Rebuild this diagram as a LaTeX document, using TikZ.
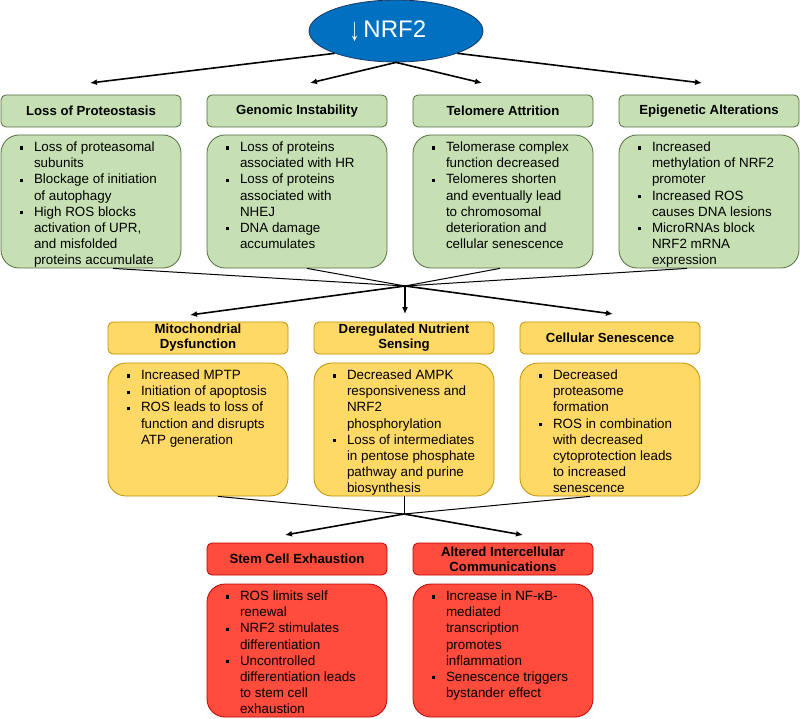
\documentclass[tikz,border=0pt]{standalone}
\usepackage{fontspec}
\setmainfont{Liberation Sans}
\usetikzlibrary{arrows.meta,shapes.geometric}
\definecolor{nrfblue}{RGB}{0,112,192}
\definecolor{nrfnavy}{RGB}{31,56,100}
\definecolor{hallgreen}{RGB}{198,224,180}
\definecolor{hallgreenedge}{RGB}{84,110,62}
\definecolor{hallyellow}{RGB}{255,217,102}
\definecolor{hallyellowedge}{RGB}{191,144,0}
\definecolor{hallred}{RGB}{255,76,60}
\definecolor{hallrededge}{RGB}{192,0,0}
\newcommand{\points}[1]{%
  \begin{minipage}[t][122pt][t]{156pt}\raggedright
  \fontsize{13.4}{16.1}\selectfont
  \begin{list}{\rule[1.8pt]{3.5pt}{3.5pt}}{\setlength\leftmargin{21pt}%
    \setlength\labelwidth{3.5pt}\setlength\labelsep{11pt}%
    \setlength\itemsep{0pt}\setlength\parsep{0pt}%
    \setlength\topsep{0pt}\setlength\partopsep{0pt}}%
  #1\end{list}\end{minipage}}
\tikzset{
  nrfnode/.style={ellipse,draw=nrfnavy,thick,fill=nrfblue,text=white,minimum width=174pt,
    minimum height=62pt,inner sep=0pt,font=\fontsize{24}{26}\selectfont},
  headnode/.style={rectangle,rounded corners=5pt,draw,line width=0.8pt,minimum width=180pt,
    minimum height=32pt,inner sep=2pt,align=center,font=\fontsize{13.2}{15}\selectfont\bfseries},
  listnode/.style={rectangle,rounded corners=18pt,draw,line width=0.8pt,minimum width=180pt,
    minimum height=133pt,inner xsep=12pt,inner ysep=5.5pt},
  rowone/.style={fill=hallgreen,draw=hallgreenedge},
  rowtwo/.style={fill=hallyellow,draw=hallyellowedge},
  rowthree/.style={fill=hallred,draw=hallrededge},
  fanarrow/.style={-{Latex[length=7pt,width=6pt]},line width=1.6pt},
  joinline/.style={line width=1pt}
}

\begin{document}
\begin{tikzpicture}[x=1pt,y=-1pt]
  \useasboundingbox (0,0) rectangle (800,719);
  \node[nrfnode] (nrf) at (396,31) {\raisebox{-3pt}{\scalebox{0.8}[1.35]{↓}}\,NRF2\hspace*{16pt}};

  % hallmarks, first tier
  \node[headnode,rowone] (h1) at (91,111) {Loss of Proteostasis};
  \node[headnode,rowone] (h2) at (297,111) {Genomic Instability};
  \node[headnode,rowone] (h3) at (503,111) {Telomere Attrition};
  \node[headnode,rowone] (h4) at (709,111) {Epigenetic Alterations};
  \node[listnode,rowone] (b1) at (91,201.5) {\points{%
    \item\strut Loss of proteasomal\\ subunits
    \item Blockage of initiation\\ of autophagy
    \item High ROS blocks\\ activation of UPR,\\ and misfolded\\ proteins accumulate}};
  \node[listnode,rowone] (b2) at (297,201.5) {\points{%
    \item\strut Loss of proteins\\ associated with HR
    \item Loss of proteins\\ associated with\\ NHEJ
    \item DNA damage\\ accumulates}};
  \node[listnode,rowone] (b3) at (503,201.5) {\points{%
    \item\strut Telomerase complex\\ function decreased
    \item Telomeres shorten\\ and eventually lead\\ to chromosomal\\ deterioration and\\ cellular senescence}};
  \node[listnode,rowone] (b4) at (709,201.5) {\points{%
    \item\strut Increased\\ methylation of NRF2\\ promoter
    \item Increased ROS\\ causes DNA lesions
    \item MicroRNAs block\\ NRF2 mRNA\\ expression}};

  % second tier
  \node[headnode,rowtwo] (h5) at (198,338) {Mitochondrial\\Dysfunction};
  \node[headnode,rowtwo] (h6) at (404,338) {Deregulated Nutrient\\Sensing};
  \node[headnode,rowtwo] (h7) at (610,338) {Cellular Senescence};
  \node[listnode,rowtwo] (b5) at (198,429.5) {\points{%
    \item\strut Increased MPTP
    \item Initiation of apoptosis
    \item ROS leads to loss of\\ function and disrupts\\ ATP generation}};
  \node[listnode,rowtwo] (b6) at (404,429.5) {\points{%
    \item\strut Decreased AMPK\\ responsiveness and\\ NRF2\\ phosphorylation
    \item Loss of intermediates\\ in pentose phosphate\\ pathway and purine\\ biosynthesis}};
  \node[listnode,rowtwo] (b7) at (610,429.5) {\points{%
    \item\strut Decreased\\ proteasome\\ formation
    \item ROS in combination\\ with decreased\\ cytoprotection leads\\ to increased\\ senescence}};

  % third tier
  \node[headnode,rowthree] (h8) at (297,559) {Stem Cell Exhaustion};
  \node[headnode,rowthree] (h9) at (503,559) {Altered Intercellular\\Communications};
  \node[listnode,rowthree] (b8) at (297,650.5) {\points{%
    \item\strut ROS limits self\\ renewal
    \item NRF2 stimulates\\ differentiation
    \item Uncontrolled\\ differentiation leads\\ to stem cell\\ exhaustion}};
  \node[listnode,rowthree] (b9) at (503,650.5) {\points{%
    \item\strut Increase in NF-κB-\\ mediated\\ transcription\\ promotes\\ inflammation
    \item Senescence triggers\\ bystander effect}};

  \coordinate (t1) at (90,83);
  \coordinate (t2) at (310,83);
  \coordinate (t3) at (482,83);
  \coordinate (t4) at (702,83);
  \coordinate (j1) at (405,286);
  \coordinate (t5) at (190,315);
  \coordinate (t6) at (405,314);
  \coordinate (t7) at (613,314);
  \coordinate (j2) at (404,514);
  \coordinate (t8) at (285,535);
  \coordinate (t9) at (523,535);

  \draw[fanarrow] (nrf.200) -- (t1);
  \draw[fanarrow] (nrf.south) -- (t2);
  \draw[fanarrow] (nrf.south) -- (t3);
  \draw[fanarrow] (nrf.340) -- (t4);

  \draw[joinline] ([xshift=22pt]b1.south) -- (j1);
  \draw[joinline] ([xshift=10pt]b2.south) -- (j1);
  \draw[joinline] ([xshift=-3pt]b3.south) -- (j1);
  \draw[joinline] ([xshift=-22pt]b4.south) -- (j1);
  \draw[fanarrow] (j1) -- (t5);
  \draw[fanarrow] (j1) -- (t6);
  \draw[fanarrow] (j1) -- (t7);

  \draw[joinline] ([xshift=20pt]b5.south) -- (j2);
  \draw[joinline] (b6.south) -- (j2);
  \draw[joinline] ([xshift=-20pt]b7.south) -- (j2);
  \draw[fanarrow] (j2) -- (t8);
  \draw[fanarrow] (j2) -- (t9);
\end{tikzpicture}
\end{document}
